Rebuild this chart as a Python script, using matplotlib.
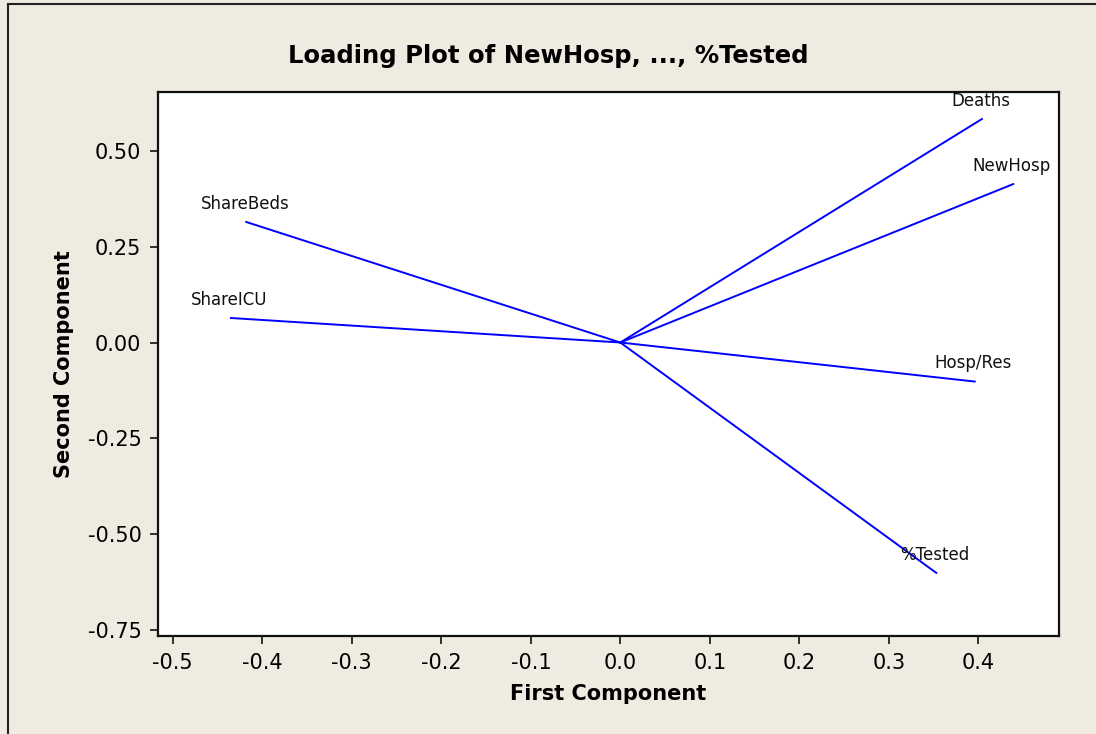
import matplotlib
matplotlib.use("Agg")
import matplotlib.pyplot as plt
from matplotlib.lines import Line2D

# loadings (first, second component)
variables = ["NewHosp", "Deaths", "Hosp/Res", "%Tested", "ShareBeds", "ShareICU"]
first_comp = [0.439, 0.404, 0.396, 0.353, -0.418, -0.435]
second_comp = [0.414, 0.584, -0.102, -0.602, 0.315, 0.064]

xticks = [-0.5, -0.4, -0.3, -0.2, -0.1, 0.0, 0.1, 0.2, 0.3, 0.4]
yticks = [-0.75, -0.50, -0.25, 0.00, 0.25, 0.50]

plt.rcParams["font.family"] = ["DejaVu Sans"]
plt.rcParams["axes.unicode_minus"] = False

bg = "#efebe1"
fig = plt.figure(figsize=(10.96, 7.34), dpi=100, facecolor=bg)
ax = fig.add_axes([0.1442, 0.1335, 0.822, 0.7412])
ax.set_facecolor("white")

for name, x, y in zip(variables, first_comp, second_comp):
    ax.plot([0, x], [0, y], color="#0000ff", linewidth=1.4)
    ax.annotate(name, (x, y), xytext=(-1, 9.5), textcoords="offset points",
                ha="center", va="baseline", fontsize=12, color="#111111")

ax.set_xlim(-0.5165, 0.4901)
ax.set_ylim(-0.767, 0.6547)
ax.set_xticks(xticks)
ax.set_xticklabels(["%.1f" % t for t in xticks])
ax.set_yticks(yticks)
ax.set_yticklabels(["%.2f" % t for t in yticks])
ax.tick_params(direction="out", length=6, width=1.2, labelsize=15, pad=6, color="#111111")

for s in ax.spines.values():
    s.set_linewidth(1.6)
    s.set_color("#111111")

ax.set_xlabel("First Component", fontsize=15, fontweight="bold", labelpad=8)
ax.set_ylabel("Second Component", fontsize=15, fontweight="bold", labelpad=10)
fig.text(0.5, 0.924, "Loading Plot of NewHosp, ..., %Tested", ha="center", va="center",
         fontsize=17.5, fontweight="bold")

# outer frame (only left and top visible in the reference)
fig.add_artist(Line2D([7.5 / 1096, 7.5 / 1096], [0, 1 - 3.5 / 734], transform=fig.transFigure,
                      color="#222222", linewidth=1.5))
fig.add_artist(Line2D([7.5 / 1096, 1], [1 - 3.5 / 734, 1 - 3.5 / 734], transform=fig.transFigure,
                      color="#222222", linewidth=1.5))

fig.savefig("out.png", dpi=100, facecolor=bg)
